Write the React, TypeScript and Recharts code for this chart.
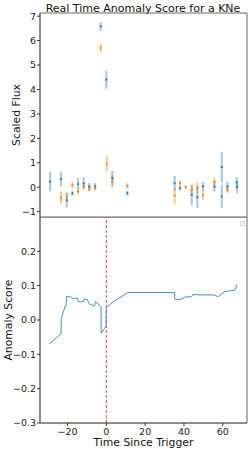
import React from 'react';
import {
  ComposedChart,
  ScatterChart,
  Scatter,
  ErrorBar,
  XAxis,
  YAxis,
  Line,
  ReferenceLine,
  ReferenceArea,
  Label,
} from 'recharts';

// ---- data ----
const blueTime = [-29.0, -23.4, -20.4, -17.5, -14.6, -11.7, -8.8, -5.8, -2.9, 0.0, 3.1, 10.8, 35.2, 38.0, 44.0, 46.9, 49.8, 55.7, 59.5, 59.5, 62.4, 67.2, 67.4];
const blueFlux = [0.23, 0.33, -0.53, -0.25, 0.12, 0.16, 0.02, 0.03, 6.58, 4.4, 0.37, -0.25, 0.16, -0.04, -0.32, -0.41, 0.03, 0.02, 0.82, -0.38, 0.03, 0.21, 0.0];
const blueErr = [0.4, 0.3, 0.3, 0.1, 0.26, 0.24, 0.15, 0.15, 0.18, 0.37, 0.3, 0.1, 0.3, 0.1, 0.42, 0.44, 0.18, 0.2, 0.63, 0.48, 0.2, 0.2, 0.25];

const orangeTime = [-23.4, -20.4, -17.5, -14.6, -11.7, -8.8, -5.8, -2.9, 0.2, 3.1, 10.8, 35.2, 38.0, 40.9, 44.0, 46.9, 49.8, 55.7, 62.4];
const orangeFlux = [-0.44, -0.4, 0.09, -0.18, 0.03, -0.08, -0.02, 5.7, 0.97, 0.24, 0.05, -0.34, 0.16, 0.0, -0.11, -0.02, -0.32, 0.23, -0.11];
const orangeErr = [0.26, 0.2, 0.14, 0.12, 0.12, 0.1, 0.08, 0.18, 0.33, 0.27, 0.12, 0.33, 0.12, 0.08, 0.2, 0.23, 0.2, 0.15, 0.12];

const scoreTime = [-29.4, -23.4, -23.2, -21.8, -20.8, -20.4, -17.8, -17.4, -14.9, -14.4, -11.8, -11.5, -9.8, -8.8, -6.3, -5.5, -2.7, -2.7, -0.2, 0.0, 3.6, 11.0, 35.1, 35.3, 38.0, 40.6, 44.0, 44.5, 50.0, 55.2, 57.7, 60.7, 66.3, 67.3];
const scoreValue = [-0.069, -0.041, 0.005, 0.03, 0.044, 0.069, 0.066, 0.062, 0.064, 0.053, 0.053, 0.061, 0.059, 0.047, 0.041, 0.053, 0.039, -0.039, -0.018, 0.037, 0.053, 0.08, 0.08, 0.061, 0.059, 0.067, 0.068, 0.074, 0.073, 0.073, 0.068, 0.082, 0.087, 0.104];

const fluxTicks = [-1, 0, 1, 2, 3, 4, 5, 6, 7];
const scoreTicks = [-0.3, -0.2, -0.1, 0.0, 0.1, 0.2];
const timeTicks = [-20, 0, 20, 40, 60];

const xDomain: [number, number] = [-34.2, 72.5];
const fluxDomain: [number, number] = [-1.22, 7.13];
const scoreDomain: [number, number] = [-0.3, 0.3];

const blueData = blueTime.map((t, i) => ({ t, v: blueFlux[i], err: blueErr[i] }));
const orangeData = orangeTime.map((t, i) => ({ t, v: orangeFlux[i], err: orangeErr[i] }));
const scoreData = scoreTime.map((t, i) => ({ t, s: scoreValue[i] }));

// ---- styles ----
const FONT = 'DejaVu Sans';
const AXIS = '#666';
const tickStyle = { fontSize: 9.5, fill: '#222', fontFamily: FONT };
const labelStyle = { fontSize: 10.8, fontFamily: FONT, fill: '#111' };
const minus = (s: string) => s.replace('-', '\u2212');
const fmtInt = (v: number) => minus(String(v));
const fmt1 = (v: number) => minus(v.toFixed(1));

const dotShape = (color: string) => (props: any) => {
  const { cx, cy } = props;
  if (cx == null || cy == null) return <g />;
  return <circle cx={cx} cy={cy} r={1.1} fill={color} />;
};

export default function App() {
  return (
    <div style={{ position: 'absolute', left: 0, top: 0, width: 249, height: 449, background: '#fff', fontFamily: FONT }}>
      <svg width={249} height={16} style={{ position: 'absolute', left: 0, top: 0 }}>
        <text x={143} y={12.4} textAnchor="middle" fontSize={11} fontFamily={FONT} fill="#111">
          Real Time Anomaly Score for a KNe
        </text>
      </svg>

      <div style={{ position: 'absolute', left: 0, top: 0 }}>
        <ScatterChart width={249} height={218} margin={{ top: 13, right: 2, bottom: 1, left: 0 }}>
          <XAxis
            type="number"
            dataKey="t"
            domain={xDomain}
            allowDataOverflow
            tick={false}
            tickLine={false}
            height={0}
            axisLine={{ stroke: AXIS }}
          />
          <YAxis
            type="number"
            dataKey="v"
            domain={fluxDomain}
            allowDataOverflow
            ticks={fluxTicks}
            tickFormatter={fmtInt}
            width={40}
            tickSize={3}
            tickMargin={1}
            tick={tickStyle}
            axisLine={{ stroke: AXIS }}
            tickLine={{ stroke: '#333' }}
          >
            <Label
              value="Scaled Flux"
              angle={-90}
              position="insideLeft"
              offset={16.5}
              style={{ ...labelStyle, textAnchor: 'middle' }}
            />
          </YAxis>
          <ReferenceArea x1={xDomain[0]} x2={xDomain[1]} y1={fluxDomain[0]} y2={fluxDomain[1]} fill="none" stroke={AXIS} strokeOpacity={1} />
          <Scatter data={blueData} fill="#1f77b4" shape={dotShape('#1f77b4')} isAnimationActive={false}>
            <ErrorBar dataKey="err" direction="y" width={0} stroke="rgba(31,119,180,0.38)" strokeWidth={2.2} isAnimationActive={false} />
          </Scatter>
          <Scatter data={orangeData} fill="#ff7f0e" shape={dotShape('#ff7f0e')} isAnimationActive={false}>
            <ErrorBar dataKey="err" direction="y" width={0} stroke="rgba(255,127,14,0.45)" strokeWidth={2} isAnimationActive={false} />
          </Scatter>
        </ScatterChart>
      </div>

      <div style={{ position: 'absolute', left: 0, top: 217 }}>
        <ComposedChart width={249} height={232} data={scoreData} margin={{ top: 0, right: 2, bottom: 0, left: 0 }}>
          <XAxis
            type="number"
            dataKey="t"
            domain={xDomain}
            allowDataOverflow
            ticks={timeTicks}
            tickFormatter={fmtInt}
            height={26}
            tickSize={3}
            tickMargin={2}
            tick={tickStyle}
            axisLine={{ stroke: AXIS }}
            tickLine={{ stroke: '#333' }}
          >
            <Label value="Time Since Trigger" position="insideBottom" offset={3} style={labelStyle} />
          </XAxis>
          <YAxis
            type="number"
            domain={scoreDomain}
            allowDataOverflow
            ticks={scoreTicks}
            tickFormatter={fmt1}
            width={40}
            tickSize={3}
            tickMargin={1}
            tick={tickStyle}
            axisLine={{ stroke: AXIS }}
            tickLine={{ stroke: '#333' }}
          >
            <Label
              value="Anomaly Score"
              angle={-90}
              position="insideLeft"
              offset={8}
              style={{ ...labelStyle, textAnchor: 'middle' }}
            />
          </YAxis>
          <ReferenceArea x1={xDomain[0]} x2={xDomain[1]} y1={scoreDomain[0]} y2={scoreDomain[1]} fill="none" stroke={AXIS} strokeOpacity={1} />
          <ReferenceLine x={0} stroke="#ff3b3b" strokeDasharray="3 2" strokeWidth={1} />
          <Line type="linear" dataKey="s" stroke="#4a8fcc" strokeWidth={1} dot={false} isAnimationActive={false} />
        </ComposedChart>
      </div>

      <div
        style={{
          position: 'absolute',
          left: 240,
          top: 221,
          width: 3,
          height: 3,
          border: '1px solid #d0d0d0',
          borderRadius: 1,
          background: '#fff',
        }}
      />
    </div>
  );
}
